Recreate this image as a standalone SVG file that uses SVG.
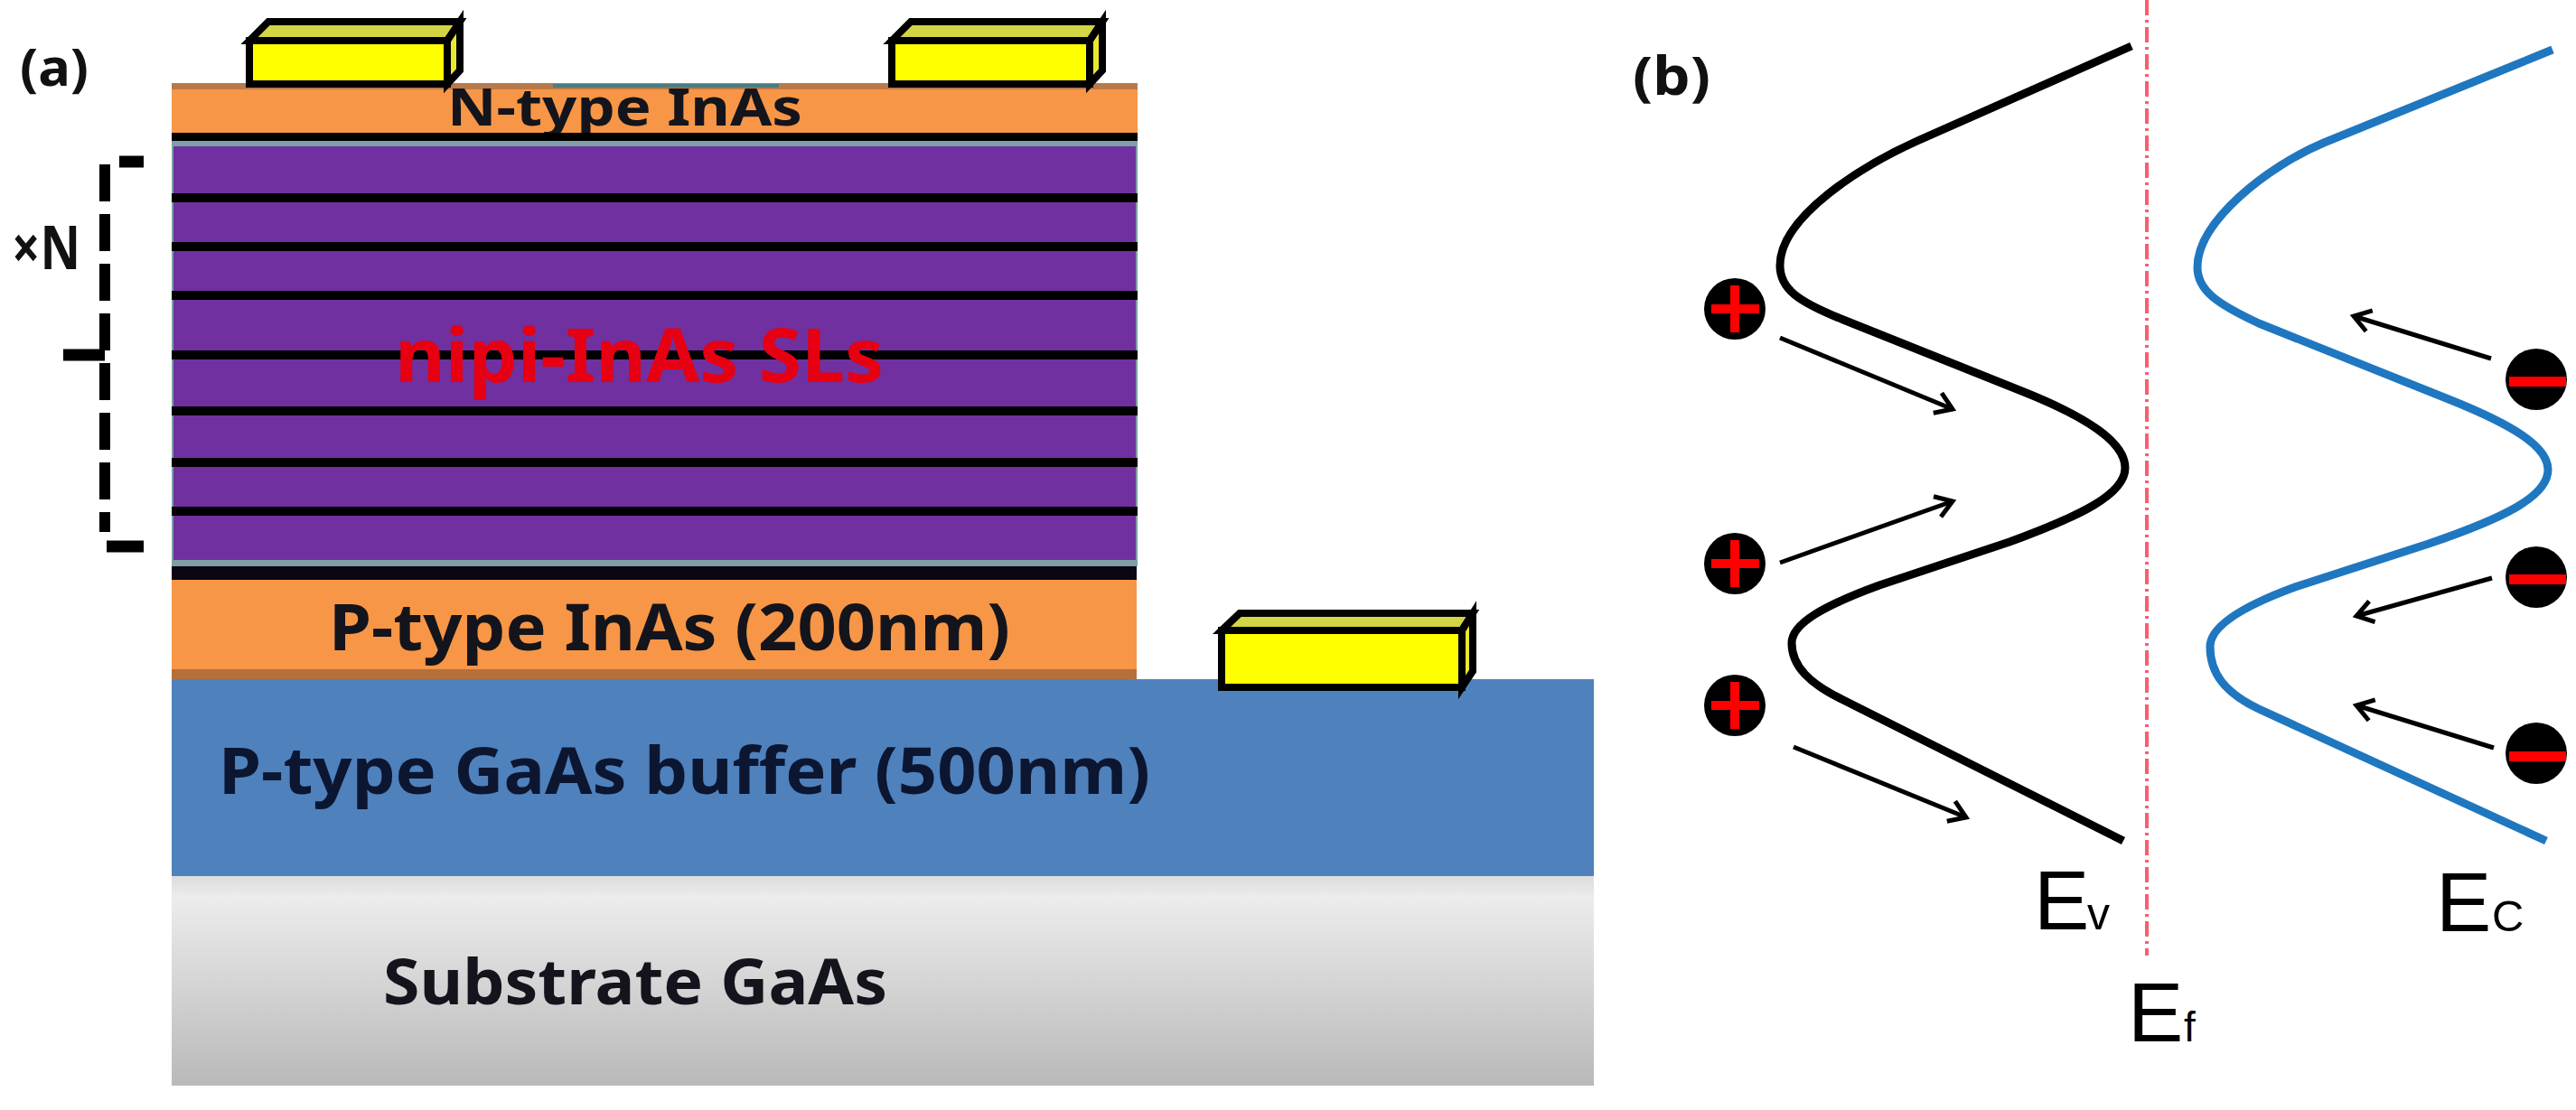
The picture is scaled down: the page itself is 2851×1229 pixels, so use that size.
<svg xmlns="http://www.w3.org/2000/svg" width="2851" height="1229" viewBox="0 0 2851 1229">
<style>
.lab{font-family:"Noto Sans","Open Sans","Liberation Sans",sans-serif;font-weight:700;fill:#14141c}
.ar{font-family:"Liberation Sans",Arial,sans-serif;fill:#000}
.band{fill:none;stroke-width:9;stroke-linecap:butt;stroke-linejoin:round}
.sl{fill:#000}
.ct{stroke:#000;stroke-width:8;stroke-linejoin:miter}
.arrow{fill:none;stroke:#000;stroke-width:5;marker-end:url(#head)}
.pm{fill:#ff0000}
</style>
<defs>
<linearGradient id="gray" x1="0" y1="0" x2="0" y2="1"><stop offset="0" stop-color="#dcdcdc"/><stop offset="0.1" stop-color="#ececec"/><stop offset="1" stop-color="#b9b9b9"/></linearGradient>
<marker id="head" markerUnits="userSpaceOnUse" markerWidth="40" markerHeight="40" refX="28" refY="20" orient="auto"><path d="M10 8 L28 20 L10 32" fill="none" stroke="#000" stroke-width="5"/></marker>
<g id="contact"><path class="ct" fill="#d4d444" d="M4 25 L25 4 L237 4 L223 25Z"/><path class="ct" fill="#e8e830" d="M223 25 L237 4 L237 58 L223 73Z"/><rect class="ct" x="4" y="25" width="219" height="48" fill="#ffff00"/></g>
</defs>
<rect width="2851" height="1229" fill="#fff"/>

<g id="panel-a">
<g id="substrate"><rect x="190" y="970" width="1574" height="232" fill="url(#gray)"/><text class="lab" x="424" y="1112" font-size="70" textLength="558" lengthAdjust="spacingAndGlyphs">Substrate GaAs</text></g>
<g id="buffer"><rect x="190" y="752" width="1574" height="218" fill="#4f81bd"/><text class="lab" x="242" y="879" font-size="71" style="fill:#0c1630" textLength="1031" lengthAdjust="spacingAndGlyphs">P-type GaAs buffer (500nm)</text></g>
<g id="p-inas"><rect x="190" y="642" width="1068" height="110" fill="#f79646"/><rect x="190" y="741" width="1068" height="11" fill="#b4703c"/><text class="lab" x="364" y="720" font-size="72" textLength="754" lengthAdjust="spacingAndGlyphs">P-type InAs (200nm)</text></g>
<g id="n-inas"><rect x="190" y="92" width="1069" height="56" fill="#f79646"/><rect x="190" y="92" width="1069" height="7" fill="#b97a4a"/><rect x="612" y="93" width="250" height="4" fill="#4a7d80"/><text class="lab" x="495" y="139" font-size="58" textLength="393" lengthAdjust="spacingAndGlyphs">N-type InAs</text></g>
<g id="superlattice">
<rect x="190" y="147" width="1069" height="9" class="sl"/>
<rect x="190" y="156" width="1069" height="471" fill="#7f9fa6"/>
<rect x="192" y="162" width="1065" height="458" fill="#7030a0"/>
<rect x="190" y="214" width="1069" height="10" class="sl"/>
<rect x="190" y="268" width="1069" height="10" class="sl"/>
<rect x="190" y="322" width="1069" height="10" class="sl"/>
<rect x="190" y="388" width="1069" height="10" class="sl"/>
<rect x="190" y="450" width="1069" height="10" class="sl"/>
<rect x="190" y="507" width="1069" height="10" class="sl"/>
<rect x="190" y="561" width="1069" height="10" class="sl"/>
<rect x="190" y="627" width="1068" height="15" fill="#0c0514"/>
<text x="437" y="423" font-family="'Noto Sans','Liberation Sans',sans-serif" font-weight="700" font-size="83" fill="#e60012" textLength="541" lengthAdjust="spacingAndGlyphs">nipi-InAs SLs</text>
</g>
<g id="contact-1"><use href="#contact" x="272" y="20"/></g>
<g id="contact-2"><use href="#contact" x="983" y="20"/></g>
<g id="contact-3"><rect class="ct" x="1352" y="698" width="266" height="63" fill="#ffff00"/><path class="ct" fill="#d4d444" d="M1352 698 L1372 679 L1630 679 L1618 698Z"/><path class="ct" fill="#e8e830" d="M1618 698 L1630 679 L1630 743 L1618 761Z"/></g>
<g id="bracket">
<path d="M116 182 V589" fill="none" stroke="#000" stroke-width="12" stroke-dasharray="41 14"/>
<path d="M132 179 H159" stroke="#000" stroke-width="13" fill="none"/>
<path d="M118 605 H159" stroke="#000" stroke-width="13" fill="none"/>
<path d="M70 393 H116" stroke="#000" stroke-width="13" fill="none"/>
<text class="lab" x="13" y="298" font-size="66" style="fill:#111" textLength="76" lengthAdjust="spacingAndGlyphs">×N</text>
</g>
<text id="label-a" class="lab" x="22" y="95" font-size="58" style="fill:#111" textLength="76" lengthAdjust="spacingAndGlyphs">(a)</text>
</g>

<g id="panel-b">
<text id="label-b" class="lab" x="1807" y="105" font-size="60" style="fill:#111" textLength="86" lengthAdjust="spacingAndGlyphs">(b)</text>
<path id="fermi" d="M2376 0 V1058" fill="none" stroke="#ff5a6e" stroke-width="4" stroke-dasharray="17 5 3 5"/>
<path id="ev-band" class="band" stroke="#000" d="M2359 51 L2122 156 C2060 184 1970 240 1970 294 C1970 320 1990 334 2040 354 L2240 434 C2310 462 2352 490 2352 518 C2352 548 2300 572 2224 600 L2080 648 C2020 670 1983 690 1983 712 C1983 738 2003 757 2040 775 L2350 931"/>
<path id="ec-band" class="band" stroke="#1f77c0" d="M2825 55 L2572 158 C2510 184 2432 245 2432 296 C2432 322 2455 337 2500 358 L2710 442 C2780 470 2820 494 2820 520 C2820 550 2770 574 2688 602 L2540 650 C2480 672 2446 694 2446 716 C2446 745 2462 767 2500 785 L2818 931"/>
<g id="holes">
<g id="hole-1"><circle cx="1920" cy="342" r="34"/><rect class="pm" x="1894" y="337" width="53" height="10"/><rect class="pm" x="1915" y="316" width="10" height="52"/></g>
<g id="hole-2"><circle cx="1920" cy="624" r="34"/><rect class="pm" x="1894" y="619" width="53" height="10"/><rect class="pm" x="1915" y="598" width="10" height="52"/></g>
<g id="hole-3"><circle cx="1920" cy="781" r="34"/><rect class="pm" x="1894" y="776" width="53" height="10"/><rect class="pm" x="1915" y="755" width="10" height="52"/></g>
</g>
<g id="electrons">
<g id="electron-1"><circle cx="2807" cy="420" r="34"/><rect class="pm" x="2777" y="417" width="63" height="11"/></g>
<g id="electron-2"><circle cx="2807" cy="639" r="34"/><rect class="pm" x="2777" y="636" width="63" height="11"/></g>
<g id="electron-3"><circle cx="2807" cy="834" r="34"/><rect class="pm" x="2777" y="832" width="63" height="11"/></g>
</g>
<g id="connectors">
<path class="arrow" d="M1970 374 L2161 453"/>
<path class="arrow" d="M1970 623 L2161 555"/>
<path class="arrow" d="M1985 827 L2176 905"/>
<path class="arrow" d="M2757 397 L2605 350"/>
<path class="arrow" d="M2758 640 L2608 682"/>
<path class="arrow" d="M2760 828 L2608 781"/>
</g>
<g id="label-ev"><text class="ar" x="2251" y="1029" font-size="92">E</text><text class="ar" x="2310" y="1029" font-size="50">v</text></g>
<g id="label-ec"><text class="ar" x="2696" y="1031" font-size="92">E</text><text class="ar" x="2758" y="1031" font-size="49">C</text></g>
<g id="label-ef"><text class="ar" x="2355" y="1153" font-size="92">E</text><text class="ar" x="2417" y="1153" font-size="46">f</text></g>
</g>
</svg>
